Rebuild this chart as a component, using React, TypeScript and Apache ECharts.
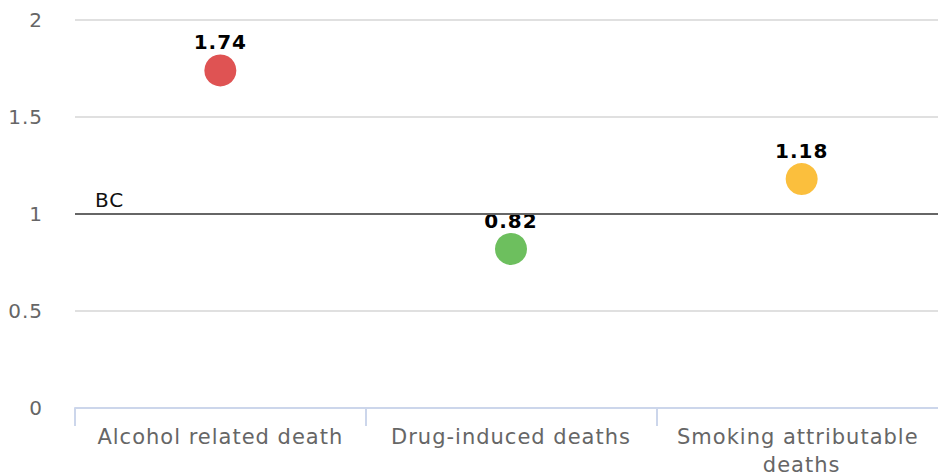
import React, { useEffect, useRef } from "react";
import * as echarts from "echarts";

const categories = ["Alcohol related death", "Drug-induced deaths", "Smoking attributable deaths"];
const values = [1.74, 0.82, 1.18];
const referenceValue = 1;
const referenceLabel = "BC";
const yTicks = { min: 0, max: 2, interval: 0.5 };

const pointColors = ["#df5353", "#6dbf5e", "#fbbf3d"];
const FONT = "DejaVu Sans";

export default function App() {
  const ref = useRef<HTMLDivElement>(null);
  useEffect(() => {
    document.body.style.margin = "0";
    const chart = echarts.init(ref.current!, undefined, { renderer: "svg" });
    chart.setOption({
      animation: false,
      textStyle: { fontFamily: FONT },
      grid: { left: 75, right: 0, top: 20, bottom: 68, containLabel: false, outerBoundsMode: "none" },
      xAxis: {
        type: "category",
        data: categories,
        axisLine: { show: true, lineStyle: { color: "#ccd6eb", width: 2 } },
        axisTick: { show: true, length: 18, lineStyle: { color: "#ccd6eb", width: 2 } },
        axisLabel: {
          color: "#666666",
          fontSize: 21,
          fontFamily: FONT,
          margin: 15,
          width: 270,
          overflow: "break",
          lineHeight: 28,
          interval: 0,
        },
      },
      yAxis: {
        type: "value",
        min: yTicks.min,
        max: yTicks.max,
        interval: yTicks.interval,
        axisLine: { show: false },
        axisTick: { show: false },
        splitLine: { lineStyle: { color: "#e0e0e0", width: 2 } },
        axisLabel: { color: "#666666", fontSize: 20, fontFamily: FONT, margin: 32 },
      },
      series: [
        {
          type: "scatter",
          symbolSize: 32,
          itemStyle: { opacity: 1 },
          data: values.map((v, i) => ({ value: v, itemStyle: { color: pointColors[i], opacity: 1 } })),
          label: {
            show: true,
            position: "top",
            distance: 2,
            color: "#000000",
            fontWeight: "bold",
            fontSize: 20,
            fontFamily: FONT,
          },
          markLine: {
            silent: true,
            symbol: "none",
            data: [{ yAxis: referenceValue }],
            lineStyle: {
              type: "solid",
              color: "#666666",
              width: 2,
              opacity: 1,
            },
            label: {
              show: true,
              position: "insideStartTop",
              formatter: referenceLabel,
              color: "#111111",
              fontSize: 20,
              fontFamily: FONT,
              distance: [20, 4],
            },
          },
        },
      ],
    });
    return () => chart.dispose();
  }, []);
  return (
    <div style={{ width: 938, height: 476, overflow: "hidden", letterSpacing: "1px" }}>
      <div ref={ref} style={{ width: 947, height: 476 }} />
    </div>
  );
}
